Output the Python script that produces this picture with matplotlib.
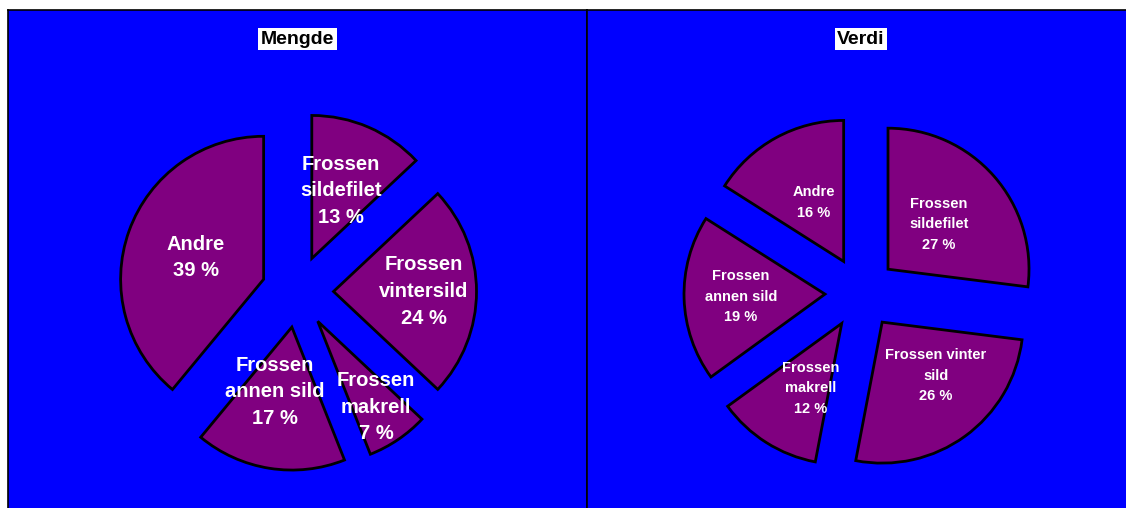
import numpy as np
import matplotlib
matplotlib.use("Agg")
import matplotlib.pyplot as plt

plt.rcParams['font.family'] = ['Liberation Sans', 'DejaVu Sans']

# data
mengde_labels = ["Frossen\nsildefilet", "Frossen\nvintersild", "Frossen\nmakrell",
                 "Frossen\nannen sild", "Andre"]
mengde_vals = [13, 24, 7, 17, 39]
verdi_labels = ["Frossen\nsildefilet", "Frossen vinter\nsild", "Frossen\nmakrell",
                "Frossen\nannen sild", "Andre"]
verdi_vals = [27, 26, 12, 19, 16]

BLUE = '#0000FF'
PURPLE = '#800080'

W, H = 1126, 508
fig = plt.figure(figsize=(W / 100, H / 100), dpi=100, facecolor='white')


def panel(x0, x1, title, labels, vals, center, r, expl, lab_pos, fs, ls, right_spine):
    # axes in pixel-like data units (y up, top of panel = 498)
    ax = fig.add_axes([x0 / W, 0, (x1 - x0) / W, 498 / H])
    ax.set_facecolor(BLUE)
    wedges, _ = ax.pie(vals, startangle=90, counterclock=False, radius=r,
                       center=center, explode=[expl] * len(vals), frame=True,
                       colors=[PURPLE] * len(vals),
                       wedgeprops=dict(edgecolor='black', linewidth=2.0))
    ax.set_xlim(0, x1 - x0)
    ax.set_ylim(0, 498)
    ax.set_aspect('auto')
    ax.set_xticks([])
    ax.set_yticks([])
    for s in ['left', 'top', 'right', 'bottom']:
        ax.spines[s].set_color('black')
        ax.spines[s].set_linewidth(1.2)
    ax.spines['bottom'].set_visible(False)
    ax.spines['right'].set_visible(right_spine)
    for w, lab, v, (d, da) in zip(wedges, labels, vals, lab_pos):
        th = np.deg2rad(0.5 * (w.theta1 + w.theta2) + da)
        cx, cy = w.center
        ax.text(cx + d * np.cos(th), cy + d * np.sin(th), f"{lab}\n{v} %",
                ha='center', va='center', color='white', fontsize=fs,
                fontweight='bold', linespacing=ls, multialignment='center')
    ax.text(center[0], 498 - 29, title, ha='center', va='center', fontsize=14,
            fontweight='bold', color='black',
            bbox=dict(facecolor='white', edgecolor='none', pad=2.0))
    return ax


panel(8, 587, "Mengde", mengde_labels, mengde_vals, (289.5, 216.5), 143, 36,
      [(74, 0), (90, 0), (104, 0), (67, -6), (71, 2)], 14.5, 1.5, True)
panel(587, W, "Verdi", verdi_labels, verdi_vals, (274, 215), 141, 36,
      [(68, 0), (76, 9), (72, 7), (84, 0), (66, -2)], 10.5, 1.6, False)

fig.savefig("out.png", dpi=100, facecolor='white')
